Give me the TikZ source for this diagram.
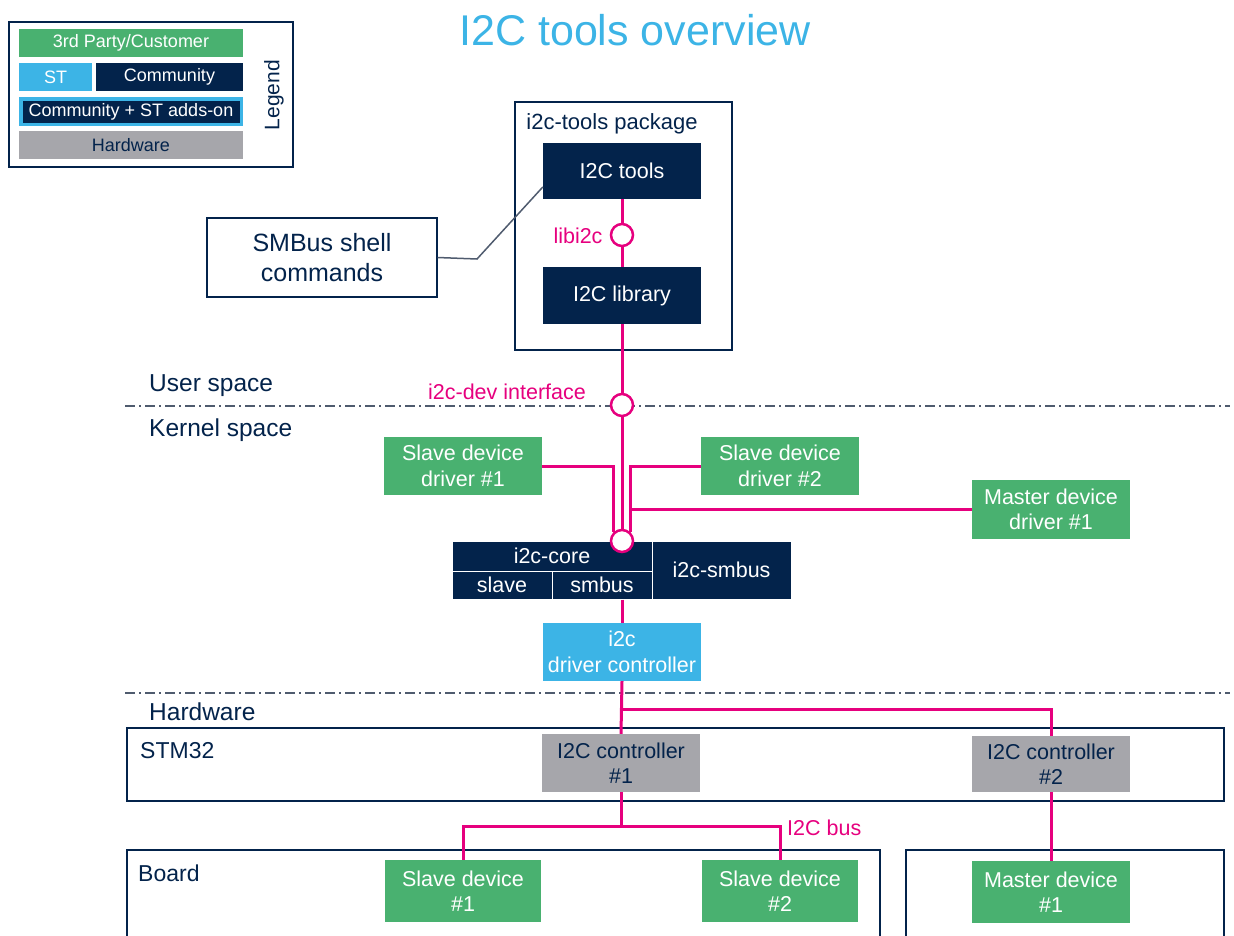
\documentclass[tikz,border=0pt]{standalone}
\usepackage{fontspec}
\setmainfont{Liberation Sans}
\usetikzlibrary{calc}
\definecolor{stnavy}{HTML}{03234B}
\definecolor{stblue}{HTML}{3CB4E6}
\definecolor{stgreen}{HTML}{49B170}
\definecolor{stgray}{HTML}{A6A6AB}
\definecolor{stpink}{HTML}{E6007E}
\definecolor{sepgray}{HTML}{4F5B6E}
\tikzset{
	box/.style={inner sep=0pt, align=center, font=\fontsize{21.5}{25.5}\selectfont},
	party/.style={box, fill=stgreen, text=white},
	stbox/.style={box, fill=stblue, text=white},
	community/.style={box, fill=stnavy, text=white},
	hwbox/.style={box, fill=stgray, text=stnavy},
	cell/.style={box, fill=stnavy, text=white, draw=white, line width=1pt},
	port/.style={circle, draw=stpink, fill=white, line width=2.5pt, inner sep=0pt, minimum size=22pt},
	bus/.style={draw=stpink, line width=3pt},
	buslabel/.style={text=stpink, inner sep=0pt, font=\fontsize{21.5}{25}\selectfont},
	frame/.style={draw=stnavy, line width=1.2pt},
	spacelabel/.style={text=stnavy, anchor=west, inner sep=0pt, font=\fontsize{24.5}{28}\selectfont},
	layerline/.style={draw=sepgray, line width=1.6pt, dash pattern=on 10pt off 4pt on 2pt off 4pt}
}

\begin{document}
\begin{tikzpicture}[x=1pt, y=-1pt]
			%%%%% START %%%%%
			\useasboundingbox (0, 0) rectangle (1234, 935);
			
			% legend
			\draw[frame, line width=2pt] (9, 22) rectangle (293, 167);
			\node[party, minimum width=224pt, minimum height=28pt, font=\fontsize{18}{20}\selectfont] (lgparty) at (131, 43) {3rd Party/Customer};
			\node[stbox, minimum width=73pt, minimum height=28pt, font=\fontsize{18}{20}\selectfont] (lgst) at (55.5, 77) {ST};
			\node[community, minimum width=147pt, minimum height=28pt, font=\fontsize{18}{20}\selectfont] (lgcomm) at (169.5, 77) {Community};
			\node[community, draw=stblue, line width=3.5pt, minimum width=220.5pt, minimum height=25.5pt, font=\fontsize{18}{20}\selectfont] (lgadd) at (131, 111.5) {Community + ST adds-on};
			\node[hwbox, minimum width=224pt, minimum height=28pt, font=\fontsize{18}{20}\selectfont] (lghw) at (131, 145) {Hardware};
			\node[text=stnavy, rotate=90, inner sep=0pt, font=\fontsize{21}{24}\selectfont] (lgtitle) at (274, 95) {Legend};
			
			% title
			\node[text=stblue, inner sep=0pt, font=\fontsize{43}{48}\selectfont] (title) at (635, 30) {I2C tools overview};
			
			% user space
			\node[box, frame, minimum width=217pt, minimum height=248pt] (pkg) at (623.5, 226) {};
			\node[box, text=stnavy, font=\fontsize{22}{25}\selectfont] (pkglabel) at (612, 124) {i2c-tools package};
			\node[community, minimum width=158pt, minimum height=56pt] (tools) at (622, 171) {I2C tools};
			\node[community, minimum width=158pt, minimum height=57pt] (lib) at (622, 295.5) {I2C library};
			\node[port] (libc) at (622, 235) {};
			\node[buslabel] (libclabel) at (578, 236) {libi2c};
			\node[box, frame, fill=white, text=stnavy, minimum width=230pt, minimum height=79pt, font=\fontsize{25}{30}\selectfont] (smb) at (322, 257.5) {SMBus shell\\commands};
			\coordinate (knee) at (477, 259);
			\draw[draw=sepgray, line width=1.5pt] (smb.east) -- (knee) -- ([yshift=-16pt]tools.west);
			
			\draw[bus] (tools.south) -- (libc.north);
			\draw[bus] (libc.south) -- (lib.north);
			
			\node[spacelabel] (userlabel) at (149, 386) {User space};
			\node[spacelabel] (kernellabel) at (149, 430) {Kernel space};
			\draw[layerline] (125, 406) -- (1230, 406);
			\node[port] (dev) at (622, 405) {};
			\node[buslabel] (devlabel) at (507, 392) {i2c-dev interface};
			\draw[bus] (lib.south) -- (dev.north);
			
			% kernel space
			\node[party, minimum width=158pt, minimum height=58pt] (sd1) at (463, 466) {Slave device\\driver \#1};
			\node[party, minimum width=158pt, minimum height=58pt] (sd2) at (780, 466) {Slave device\\driver \#2};
			\node[party, minimum width=158pt, minimum height=59pt] (md1) at (1051, 509.5) {Master device\\driver \#1};
			
			\node[cell, minimum width=200pt, minimum height=30pt] (core) at (552, 556) {i2c-core};
			\node[cell, minimum width=100pt, minimum height=28pt] (slave) at (502, 585) {slave};
			\node[cell, minimum width=100pt, minimum height=28pt] (smbus) at (602, 585) {smbus};
			\node[cell, minimum width=139pt, minimum height=58pt] (smbcore) at (721.5, 570) {i2c-smbus};
			\node[port] (coreport) at (622, 541) {};
			
			\draw[bus] (dev.south) -- (coreport.north);
			\draw[bus] (sd1.east) -| (coreport.north west);
			\draw[bus] (sd2.west) -| (coreport.north east);
			\draw[bus] (md1.west) -- (md1.west -| coreport.north east);
			
			\node[stbox, minimum width=158pt, minimum height=58pt] (ctl) at (622, 652) {i2c\\driver controller};
			\draw[bus] (smbus.south -| ctl.north) -- (ctl.north);
			
			% hardware
			\draw[layerline] (125, 693) -- (1230, 693);
			\node[spacelabel] (hwlabel) at (149, 712) {Hardware};
			\draw[frame] (127, 728) rectangle (1224, 801);
			\node[spacelabel, font=\fontsize{23}{26}\selectfont] (stmlabel) at (140, 751) {STM32};
			\node[hwbox, minimum width=158pt, minimum height=58pt] (hc1) at (621, 763) {I2C controller\\\#1};
			\node[hwbox, minimum width=158pt, minimum height=56pt] (hc2) at (1051, 764) {I2C controller\\\#2};
			\coordinate (branch) at (622, 709);
			\draw[bus] (ctl.south) -- (hc1.north);
			\draw[bus] (branch) -| (hc2.north);
			
			\draw[frame] (127, 940) -- (127, 850) -- (880, 850) -- (880, 940);
			\draw[frame] (906, 940) -- (906, 850) -- (1224, 850) -- (1224, 940);
			\node[spacelabel, font=\fontsize{23}{26}\selectfont] (boardlabel) at (138, 873) {Board};
			\node[party, minimum width=156pt, minimum height=62pt] (sl1) at (463, 891) {Slave device\\\#1};
			\node[party, minimum width=156pt, minimum height=62pt] (sl2) at (780, 891) {Slave device\\\#2};
			\node[party, minimum width=158pt, minimum height=62pt] (ms1) at (1051, 892) {Master device\\\#1};
			
			\coordinate (i2cbus) at (621, 826);
			\draw[bus] (hc1.south) -- (i2cbus);
			\draw[bus] (sl1.north) |- (i2cbus) -| (sl2.north);
			\node[buslabel, anchor=west] (buslbl) at (787, 828) {I2C bus};
			\draw[bus] (hc2.south) -- (ms1.north);
			
			%%%%% END %%%%%
\end{tikzpicture}
\end{document}
